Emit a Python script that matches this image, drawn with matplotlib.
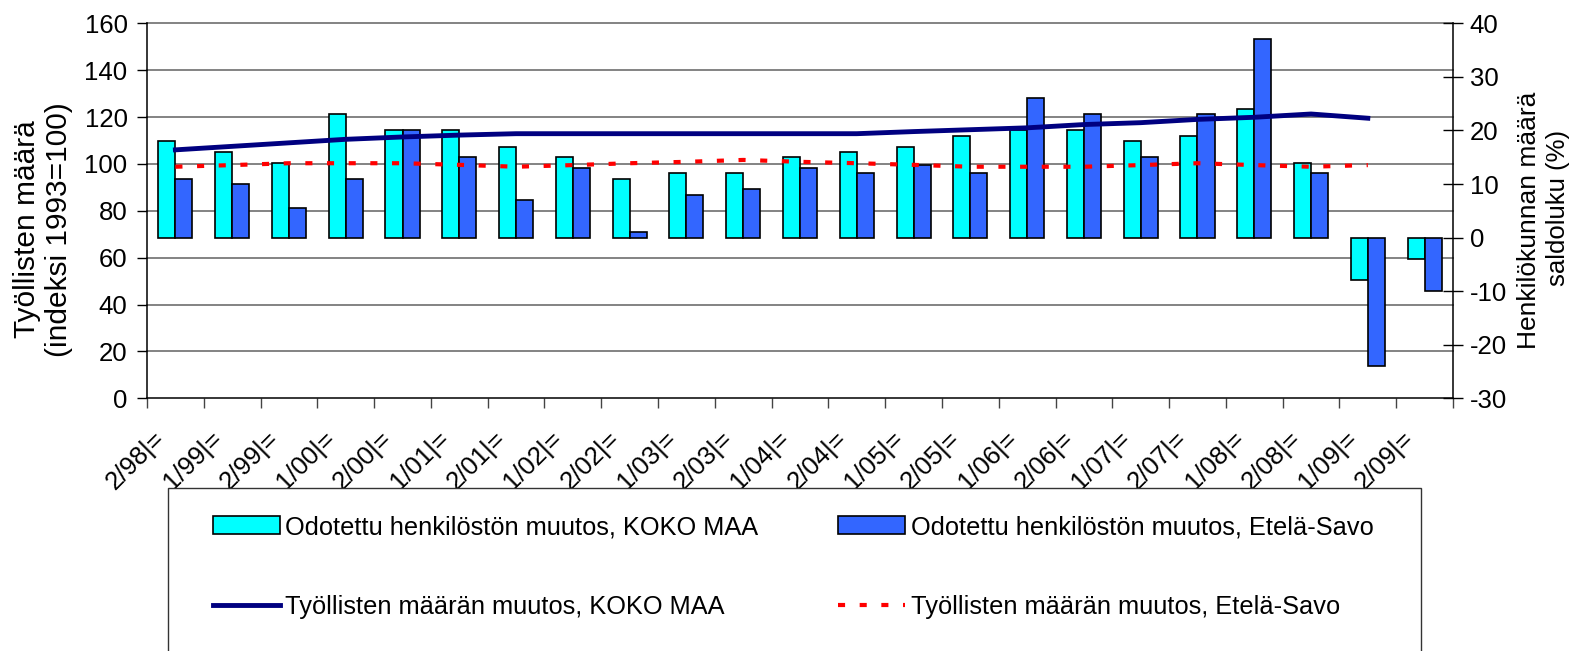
import numpy as np
import matplotlib.pyplot as plt
from matplotlib.patches import Patch, Rectangle
from matplotlib.lines import Line2D

plt.rcParams['font.family'] = ['Liberation Sans', 'DejaVu Sans']
plt.rcParams['axes.unicode_minus'] = False

# Data
periods = ['2/98', '1/99', '2/99', '1/00', '2/00', '1/01', '2/01', '1/02', '2/02',
           '1/03', '2/03', '1/04', '2/04', '1/05', '2/05', '1/06', '2/06', '1/07',
           '2/07', '1/08', '2/08', '1/09', '2/09']
tick_labels = [p + '|=' for p in periods]

# saldoluku (%), right axis
muutos_koko_maa = [18, 16, 14, 23, 20, 20, 17, 15, 11, 12, 12, 15, 16, 17, 19,
                   20, 20, 18, 19, 24, 14, -8, -4]
muutos_etela_savo = [11, 10, 5.5, 11, 20, 15, 7, 13, 1, 8, 9, 13, 12, 13.5, 12,
                     26, 23, 15, 23, 37, 12, -24, -10]

# indeksi 1993=100, left axis (no value for 2/09)
tyolliset_koko_maa = [106, 107.5, 109, 110.5, 111.5, 112.3, 112.9, 112.9, 112.9,
                      112.9, 112.9, 112.9, 112.9, 113.8, 114.6, 115.4, 116.8,
                      117.6, 119, 119.9, 121.3, 119.5]
tyolliset_etela_savo = [98.8, 99.5, 100.3, 100.3, 100.3, 99.6, 98.8, 99.5, 100.3,
                        100.9, 101.7, 100.9, 100.3, 99.6, 98.8, 98.8, 98.8, 99.5,
                        100.3, 99.5, 98.8, 99.5]

left_ticks = np.arange(0, 161, 20)
right_ticks = np.arange(-30, 41, 10)

W, H = 1578, 651
fs = 18.5
fig = plt.figure(figsize=(W / 100, H / 100), dpi=100)
x0, x1, y0, y1 = 147, 1453, 23.3, 398.3
ax = fig.add_axes([x0 / W, 1 - y1 / H, (x1 - x0) / W, (y1 - y0) / H])

n = len(periods)
x = np.arange(n)
bw = 0.3

# gridlines at the left-axis ticks (drawn behind the bars)
for v in left_ticks[1:]:
    ax.plot([0, 1], [v / 160, v / 160], transform=ax.transAxes,
            color='#6e6e6e', lw=1.2, zorder=0, clip_on=False)

ax.bar(x - bw / 2, muutos_koko_maa, bw, color='#00FFFF', edgecolor='black',
       lw=1.2, zorder=2)
ax.bar(x + bw / 2, muutos_etela_savo, bw, color='#3366FF', edgecolor='black',
       lw=1.2, zorder=2)

ax.set_xlim(-0.5, n - 0.5)
ax.set_ylim(-30, 40)
ax.set_yticks(right_ticks)

# x ticks on category boundaries, labels on centres
ax.set_xticks(np.arange(n + 1) - 0.5)
ax.set_xticklabels([])
ax.tick_params(axis='x', which='major', direction='out', length=7, width=1,
               color='#444444')
ax.set_xticks(x - 0.1, tick_labels, minor=True)
ax.tick_params(axis='x', which='minor', length=0, pad=20, labelsize=fs)
for lab in ax.get_xticklabels(minor=True):
    lab.set_rotation(45)
    lab.set_ha('right')
    lab.set_va('top')

ax.spines['top'].set_visible(False)
for s in ['left', 'right', 'bottom']:
    ax.spines[s].set_linewidth(1.1)

# lines on the left axis
ax2 = ax.twinx()
ax.yaxis.tick_right()
ax.tick_params(axis='y', direction='inout', length=14, width=1, pad=5,
               labelsize=fs)
ax2.yaxis.tick_left()
ax2.set_ylim(0, 160)
ax2.set_yticks(left_ticks)
ax2.tick_params(axis='y', direction='out', length=7, width=1, pad=7,
                labelsize=fs)
for s in ax2.spines.values():
    s.set_visible(False)

xl = x[:len(tyolliset_koko_maa)]
ax2.plot(xl, tyolliset_koko_maa, color='#000080', lw=3.5, zorder=3)
ax2.plot(xl, tyolliset_etela_savo, color='#FF0000', lw=3, dashes=(1.7, 3.5),
         zorder=3)

# axis titles
fig.text(27 / W, 1 - 229 / H, 'Työllisten määrä', rotation=90, ha='center',
         va='center', fontsize=21.5)
fig.text(59 / W, 1 - 230 / H, '(indeksi 1993=100)', rotation=90, ha='center',
         va='center', fontsize=21.5)
fig.text(1529 / W, 1 - 220 / H, 'Henkilökunnan määrä', rotation=90,
         ha='center', va='center', fontsize=19)
fig.text(1558 / W, 1 - 208 / H, 'saldoluku (%)', rotation=90, ha='center',
         va='center', fontsize=18.5)

# legend frame (runs past the bottom edge of the picture)
fig.patches.append(Rectangle((168 / W, -0.05), (1421 - 168) / W,
                             1 - 488 / H + 0.05, transform=fig.transFigure,
                             facecolor='white', edgecolor='#333333', lw=1,
                             zorder=0))

handles = [Patch(facecolor='#00FFFF', edgecolor='black', lw=1.2),
           Line2D([], [], color='#000080', lw=3.5),
           Patch(facecolor='#3366FF', edgecolor='black', lw=1.2),
           Line2D([], [], color='#FF0000', lw=3, dashes=(1.7, 3.5))]
labels = ['Odotettu henkilöstön muutos, KOKO MAA',
          'Työllisten määrän muutos, KOKO MAA',
          'Odotettu henkilöstön muutos, Etelä-Savo',
          'Työllisten määrän muutos, Etelä-Savo']
leg = fig.legend(handles, labels, loc='upper left',
                 bbox_to_anchor=(213 / W, 1 - 515 / H), ncol=2, fontsize=18.3,
                 frameon=False, borderaxespad=0, borderpad=0,
                 labelspacing=2.2, handlelength=2.64, handletextpad=0.2,
                 columnspacing=3.15)

fig.savefig('out.png', dpi=100)
